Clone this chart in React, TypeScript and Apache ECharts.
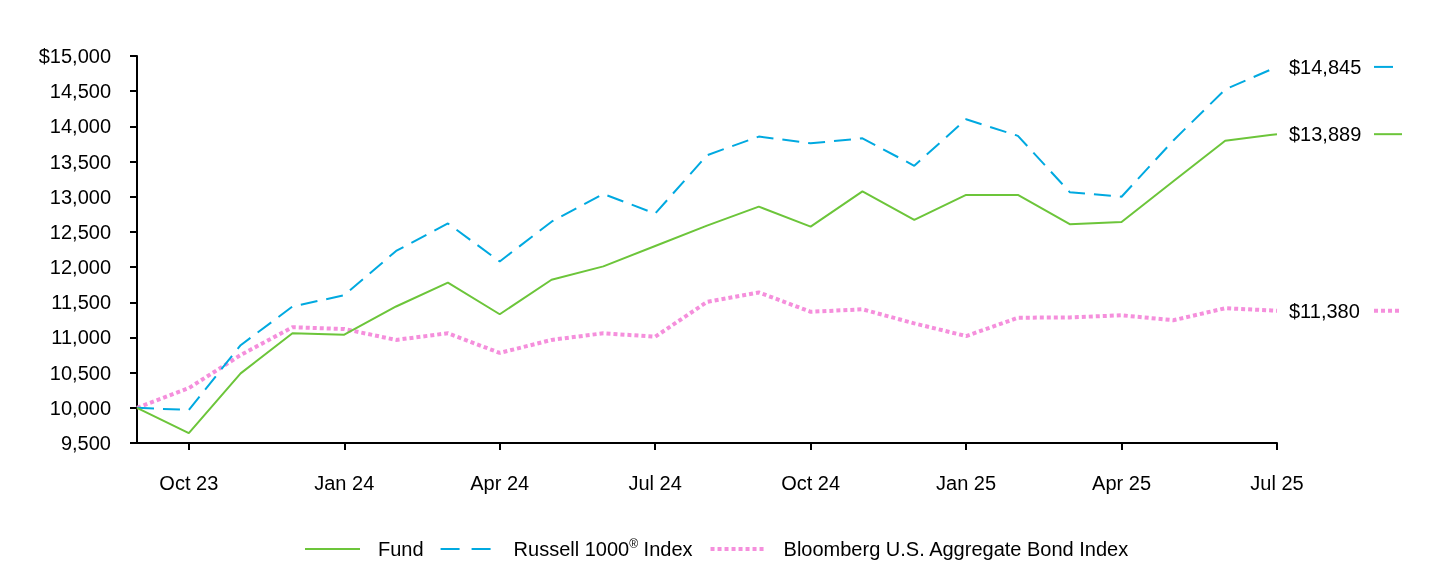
import React, { useEffect, useRef } from "react";
import * as echarts from "echarts";

const months = [
  "Sep 23", "Oct 23", "Nov 23", "Dec 23", "Jan 24", "Feb 24", "Mar 24", "Apr 24",
  "May 24", "Jun 24", "Jul 24", "Aug 24", "Sep 24", "Oct 24", "Nov 24", "Dec 24",
  "Jan 25", "Feb 25", "Mar 25", "Apr 25", "May 25", "Jun 25", "Jul 25",
];
const fund = [10000, 9640, 10490, 11060, 11040, 11440, 11780, 11330, 11820, 12010, 12300, 12590, 12860, 12575, 13075, 12670, 13025, 13025, 12610, 12640, 13220, 13795, 13889];
const russell = [10000, 9970, 10890, 11440, 11600, 12230, 12620, 12080, 12645, 13040, 12760, 13590, 13855, 13760, 13830, 13440, 14100, 13865, 13065, 13000, 13800, 14525, 14845];
const bond = [10000, 10280, 10750, 11145, 11120, 10965, 11060, 10780, 10965, 11060, 11010, 11505, 11640, 11365, 11400, 11200, 11020, 11280, 11285, 11315, 11245, 11415, 11380];
const seriesNames = ["Fund", "Russell 1000® Index", "Bloomberg U.S. Aggregate Bond Index"];

const FONT = "'Liberation Sans', Arial, sans-serif";
const lineStyles = [
  { color: "#6cc53a", width: 2, type: "solid" as any },
  { color: "#00a9e0", width: 2, type: [17, 9] as any },
  { color: "#f58fdc", width: 4, type: [4, 3] as any },
];
const legendDash = ["solid", [19, 12], [4, 3]];
const sampleLens = [28, 19, 28];

export default function App() {
  const ref = useRef<HTMLDivElement>(null);
  useEffect(() => {
    if (!ref.current) return;
    const chart = echarts.init(ref.current, undefined, { renderer: "svg" });
    const seriesData = [fund, russell, bond];
    const last = months.length - 1;
    const endData = seriesData.map((d, i) => [last, d[last], i]);
    chart.setOption({
      animation: false,
      textStyle: { fontFamily: FONT },
      grid: { left: 137, right: 163, top: 56, bottom: 121, containLabel: false },
      xAxis: {
        type: "category",
        data: months,
        boundaryGap: false,
        axisLine: { lineStyle: { color: "#000", width: 2 } },
        axisTick: { show: true, length: 7, interval: (i: number) => i % 3 === 1, lineStyle: { color: "#000", width: 2 } },
        axisLabel: {
          interval: (i: number) => i % 3 === 1,
          color: "#000",
          fontSize: 20,
          fontFamily: FONT,
          margin: 30,
        },
        splitLine: { show: false },
      },
      yAxis: {
        type: "value",
        min: 9500,
        max: 15000,
        interval: 500,
        axisLine: { show: true, lineStyle: { color: "#000", width: 2 } },
        axisTick: { show: true, length: 7, lineStyle: { color: "#000", width: 2 } },
        splitLine: { show: false },
        axisLabel: {
          color: "#000",
          fontSize: 20,
          fontFamily: FONT,
          margin: 26,
          formatter: (v: number) => (v === 15000 ? "$" : "") + v.toLocaleString("en-US"),
        },
      },
      legend: {
        data: seriesNames.map((n, i) => ({
          name: n,
          lineStyle: { color: lineStyles[i].color, width: lineStyles[i].width, type: legendDash[i] },
        })),
        left: 299,
        top: 533,
        itemWidth: 55,
        itemHeight: 14,
        itemGap: 16,
        itemStyle: { opacity: 0 },
        textStyle: {
          color: "#000",
          fontSize: 20,
          fontFamily: FONT,
          padding: [0, 0, 0, 13],
          rich: {
            sup: { fontSize: 12, fontFamily: FONT, color: "#000", verticalAlign: "top", padding: [0, 0, 10, 0] },
          },
        },
        formatter: (name: string) => name.replace("®", "{sup|®}"),
      },
      series: [
        ...seriesData.map((d, i) => ({
          name: seriesNames[i],
          type: "line",
          data: d,
          symbol: "none",
          showSymbol: false,
          lineStyle: lineStyles[i],
          itemStyle: { color: lineStyles[i].color },
          z: 3 - i,
        })),
        {
          type: "custom",
          name: "endLabels",
          data: endData,
          clip: false,
          silent: true,
          renderItem: (_p: any, api: any) => {
            const idx = api.value(2);
            const val = api.value(1);
            const pt = api.coord([api.value(0), val]);
            const ls = lineStyles[idx];
            return {
              type: "group",
              children: [
                {
                  type: "text",
                  x: pt[0] + 12,
                  y: pt[1],
                  style: {
                    text: "$" + Number(val).toLocaleString("en-US"),
                    fill: "#000",
                    font: "20px " + FONT,
                    align: "left",
                    verticalAlign: "middle",
                  },
                },
                {
                  type: "line",
                  shape: { x1: pt[0] + 97, y1: pt[1], x2: pt[0] + 97 + sampleLens[idx], y2: pt[1] },
                  style: {
                    stroke: ls.color,
                    lineWidth: ls.width,
                    lineDash: ls.type === "solid" || idx === 1 ? null : ls.type,
                  },
                },
              ],
            };
          },
        },
      ],
    });
    return () => chart.dispose();
  }, []);
  return <div ref={ref} style={{ position: "fixed", left: 0, top: 0, width: 1440, height: 564 }} />;
}
